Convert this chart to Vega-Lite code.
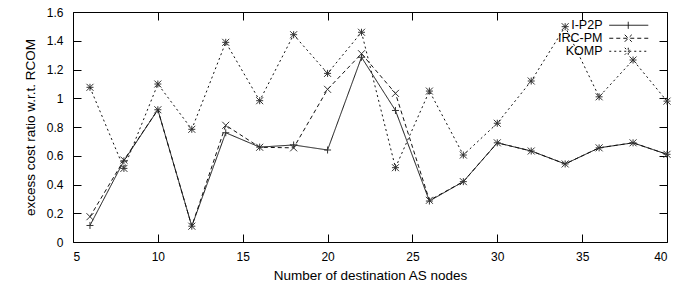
{
  "$schema": "https://vega.github.io/schema/vega-lite/v6.json",
  "width": 594,
  "height": 230,
  "autosize": "none",
  "padding": {"left": 73, "top": 12, "right": 21, "bottom": 45},
  "background": "white",
  "config": {
    "view": {"stroke": "#000", "strokeWidth": 1},
    "font": "Liberation Sans",
    "axis": {
      "tickColor": "#000",
      "tickWidth": 1,
      "tickOpacity": 1,
      "tickSize": 8,
      "labelFont": "Liberation Sans",
      "labelFontSize": 12,
      "labelColor": "#000",
      "titleFont": "Liberation Sans",
      "titleFontSize": 13.5,
      "titleFontWeight": "normal",
      "titleColor": "#000"
    }
  },
  "data": {
    "values": [
      {"n": 6, "series": "I-P2P", "value": 0.115},
      {"n": 8, "series": "I-P2P", "value": 0.565},
      {"n": 10, "series": "I-P2P", "value": 0.92},
      {"n": 12, "series": "I-P2P", "value": 0.11},
      {"n": 14, "series": "I-P2P", "value": 0.76},
      {"n": 16, "series": "I-P2P", "value": 0.66},
      {"n": 18, "series": "I-P2P", "value": 0.675},
      {"n": 20, "series": "I-P2P", "value": 0.64},
      {"n": 22, "series": "I-P2P", "value": 1.285},
      {"n": 24, "series": "I-P2P", "value": 0.915},
      {"n": 26, "series": "I-P2P", "value": 0.285},
      {"n": 28, "series": "I-P2P", "value": 0.42},
      {"n": 30, "series": "I-P2P", "value": 0.69},
      {"n": 32, "series": "I-P2P", "value": 0.633},
      {"n": 34, "series": "I-P2P", "value": 0.543},
      {"n": 36, "series": "I-P2P", "value": 0.655},
      {"n": 38, "series": "I-P2P", "value": 0.69},
      {"n": 40, "series": "I-P2P", "value": 0.61},
      {"n": 6, "series": "IRC-PM", "value": 0.176},
      {"n": 8, "series": "IRC-PM", "value": 0.57},
      {"n": 10, "series": "IRC-PM", "value": 0.92},
      {"n": 12, "series": "IRC-PM", "value": 0.11},
      {"n": 14, "series": "IRC-PM", "value": 0.812},
      {"n": 16, "series": "IRC-PM", "value": 0.659},
      {"n": 18, "series": "IRC-PM", "value": 0.655},
      {"n": 20, "series": "IRC-PM", "value": 1.062},
      {"n": 22, "series": "IRC-PM", "value": 1.31},
      {"n": 24, "series": "IRC-PM", "value": 1.034},
      {"n": 26, "series": "IRC-PM", "value": 0.29},
      {"n": 28, "series": "IRC-PM", "value": 0.42},
      {"n": 30, "series": "IRC-PM", "value": 0.69},
      {"n": 32, "series": "IRC-PM", "value": 0.633},
      {"n": 34, "series": "IRC-PM", "value": 0.543},
      {"n": 36, "series": "IRC-PM", "value": 0.655},
      {"n": 38, "series": "IRC-PM", "value": 0.69},
      {"n": 40, "series": "IRC-PM", "value": 0.61},
      {"n": 6, "series": "KOMP", "value": 1.076},
      {"n": 8, "series": "KOMP", "value": 0.512},
      {"n": 10, "series": "KOMP", "value": 1.099},
      {"n": 12, "series": "KOMP", "value": 0.784},
      {"n": 14, "series": "KOMP", "value": 1.389},
      {"n": 16, "series": "KOMP", "value": 0.983},
      {"n": 18, "series": "KOMP", "value": 1.442},
      {"n": 20, "series": "KOMP", "value": 1.173},
      {"n": 22, "series": "KOMP", "value": 1.459},
      {"n": 24, "series": "KOMP", "value": 0.517},
      {"n": 26, "series": "KOMP", "value": 1.05},
      {"n": 28, "series": "KOMP", "value": 0.605},
      {"n": 30, "series": "KOMP", "value": 0.826},
      {"n": 32, "series": "KOMP", "value": 1.12},
      {"n": 34, "series": "KOMP", "value": 1.498},
      {"n": 36, "series": "KOMP", "value": 1.01},
      {"n": 38, "series": "KOMP", "value": 1.266},
      {"n": 40, "series": "KOMP", "value": 0.98}
    ]
  },
  "layer": [
    {
      "mark": {"type": "line", "strokeWidth": 1, "color": "#111"},
      "encoding": {
        "x": {
          "field": "n", "type": "quantitative",
          "scale": {"domain": [5, 40], "nice": false, "zero": false},
          "axis": {"orient": "bottom", "domain": false, "grid": false, "offset": -8, "values": [5, 10, 15, 20, 25, 30, 35, 40], "title": "Number of destination AS nodes", "labelPadding": 9, "titlePadding": 6}
        },
        "y": {
          "field": "value", "type": "quantitative",
          "scale": {"domain": [0, 1.6], "nice": false},
          "axis": {"orient": "left", "domain": false, "grid": false, "offset": -8, "values": [0, 0.2, 0.4, 0.6, 0.8, 1, 1.2, 1.4, 1.6], "format": "~g", "title": "excess cost ratio w.r.t. RCOM", "labelPadding": 10, "titlePadding": 9}
        },
        "strokeDash": {
          "field": "series", "type": "nominal",
          "scale": {"domain": ["I-P2P", "IRC-PM", "KOMP"], "range": [[1, 0], [4, 3], [2, 3]]},
          "legend": {
            "orient": "none", "legendX": 534, "legendY": 7,
            "title": null,
            "symbolSize": 64,
            "labelAlign": "right",
            "labelOffset": -17,
            "labelFontSize": 12.5,
            "labelFont": "Liberation Sans",
            "labelColor": "#000",
            "labelLimit": 0,
            "symbolStrokeColor": "#111",
            "symbolStrokeWidth": 1,
            "symbolFillColor": "transparent",
            "rowPadding": -3,
            "encode": {
              "symbols": {
                "update": {
                  "shape": {"signal": "datum.value === 'I-P2P' ? 'M-1,0H8.75M3.75,-0.875V0.875' : datum.value === 'IRC-PM' ? 'M-1,0H8.75M2.875,-0.875L4.625,0.875M2.875,0.875L4.625,-0.875' : 'M-1,0H8.75M2.875,-0.875L4.625,0.875M2.875,0.875L4.625,-0.875M3.75,-0.875V0.875'"}
                }
              }
            }
          }
        }
      }
    },
    {
      "mark": {"type": "point", "filled": false, "strokeWidth": 1, "color": "#333", "size": 49, "opacity": 1},
      "encoding": {
        "x": {
          "field": "n", "type": "quantitative",
          "axis": {"orient": "top", "domain": false, "grid": false, "offset": -8, "values": [5, 10, 15, 20, 25, 30, 35, 40], "labels": false, "title": null}
        },
        "y": {
          "field": "value", "type": "quantitative",
          "axis": {"orient": "right", "domain": false, "grid": false, "offset": -8, "values": [0, 0.2, 0.4, 0.6, 0.8, 1, 1.2, 1.4, 1.6], "labels": false, "title": null}
        },
        "shape": {
          "field": "series", "type": "nominal",
          "scale": {"range": ["M-1,0H1M0,-1V1", "M-1,-1L1,1M-1,1L1,-1", "M-1,-1L1,1M-1,1L1,-1M-1,0H1M0,-1V1"]},
          "legend": null
        }
      }
    }
  ]
}
